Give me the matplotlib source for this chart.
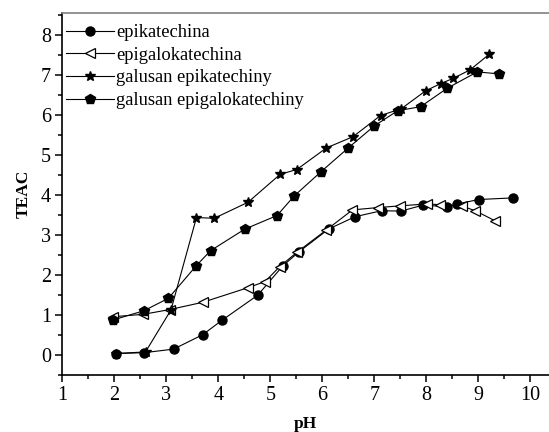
import matplotlib
matplotlib.use("Agg")
import matplotlib.pyplot as plt
from matplotlib.ticker import MultipleLocator

plt.rcParams['font.family'] = ['Liberation Serif', 'DejaVu Serif']

# epikatechina (filled circles)
ec_x = [2.03, 2.57, 3.14, 3.70, 4.07, 4.76, 5.24, 5.55, 6.12, 6.63, 7.14, 7.51, 7.94, 8.39, 8.60, 9.01, 9.66]
ec_y = [0.03, 0.05, 0.14, 0.50, 0.86, 1.49, 2.22, 2.57, 3.14, 3.45, 3.60, 3.59, 3.74, 3.70, 3.77, 3.88, 3.92]

# epigalokatechina (open left triangles)
egc_x = [1.98, 2.56, 3.07, 3.70, 4.58, 4.90, 5.18, 5.52, 6.08, 6.58, 7.08, 7.49, 8.01, 8.26, 8.68, 8.94, 9.32]
egc_y = [0.95, 1.01, 1.13, 1.31, 1.68, 1.83, 2.20, 2.57, 3.12, 3.62, 3.68, 3.72, 3.77, 3.75, 3.72, 3.60, 3.35]

# galusan epikatechiny (stars)
ecg_x = [2.03, 2.60, 3.09, 3.58, 3.92, 4.57, 5.19, 5.51, 6.08, 6.59, 7.12, 7.52, 7.99, 8.28, 8.52, 8.84, 9.21]
ecg_y = [0.03, 0.07, 1.12, 3.43, 3.41, 3.81, 4.51, 4.63, 5.17, 5.45, 5.98, 6.15, 6.60, 6.78, 6.91, 7.12, 7.51]

# galusan epigalokatechiny (filled pentagons)
egcg_x = [1.98, 2.57, 3.04, 3.58, 3.85, 4.51, 5.13, 5.46, 5.98, 6.50, 7.00, 7.45, 7.89, 8.40, 8.98, 9.40]
egcg_y = [0.87, 1.10, 1.41, 2.23, 2.60, 3.14, 3.48, 3.97, 4.58, 5.17, 5.72, 6.10, 6.20, 6.66, 7.07, 7.02]

labels = ['epikatechina', 'epigalokatechina', 'galusan epikatechiny', 'galusan epigalokatechiny']

fig = plt.figure(figsize=(5.49, 4.32), dpi=100)
ax = fig.add_axes([0.1135, 0.1326, 0.8865, 0.838])

lw = 0.8
ax.plot(ec_x, ec_y, color='black', lw=lw, marker='o', ms=6.5, mfc='black', mec='black', label=labels[0])
ax.plot(egc_x, egc_y, color='black', lw=lw, marker='<', ms=7, mfc='white', mec='black', mew=0.9, label=labels[1])
ax.plot(ecg_x, ecg_y, color='black', lw=lw, marker='*', ms=7.5, mfc='black', mec='black', label=labels[2])
ax.plot(egcg_x, egcg_y, color='black', lw=lw, marker='p', ms=7.5, mfc='black', mec='black', label=labels[3])

ax.set_xlim(1, 10.36)
ax.set_ylim(-0.5, 8.55)
ax.xaxis.set_major_locator(MultipleLocator(1))
ax.xaxis.set_minor_locator(MultipleLocator(0.5))
ax.yaxis.set_major_locator(MultipleLocator(1))
ax.yaxis.set_minor_locator(MultipleLocator(0.5))
ax.tick_params(which='major', direction='out', length=5, width=1.1, labelsize=14.5, pad=3)
ax.tick_params(which='minor', direction='out', length=3, width=1.1)
ax.set_yticks(range(0, 9))

for s in ['left', 'bottom']:
    ax.spines[s].set_linewidth(1.2)
ax.spines['top'].set_color('#808080')
ax.spines['top'].set_linewidth(1.2)
ax.spines['right'].set_visible(False)

ax.set_xlabel('pH', fontsize=12.5, fontweight='bold', labelpad=8)
ax.set_ylabel('TEAC', fontsize=12.5, fontweight='bold', labelpad=7)

leg = ax.legend(loc='upper left', frameon=False, fontsize=13.3, handlelength=2.6,
                handletextpad=0.1, labelspacing=0.3, borderaxespad=0.0,
                bbox_to_anchor=(0.0, 0.978), borderpad=0.2)

fig.savefig('out.png', dpi=100)
